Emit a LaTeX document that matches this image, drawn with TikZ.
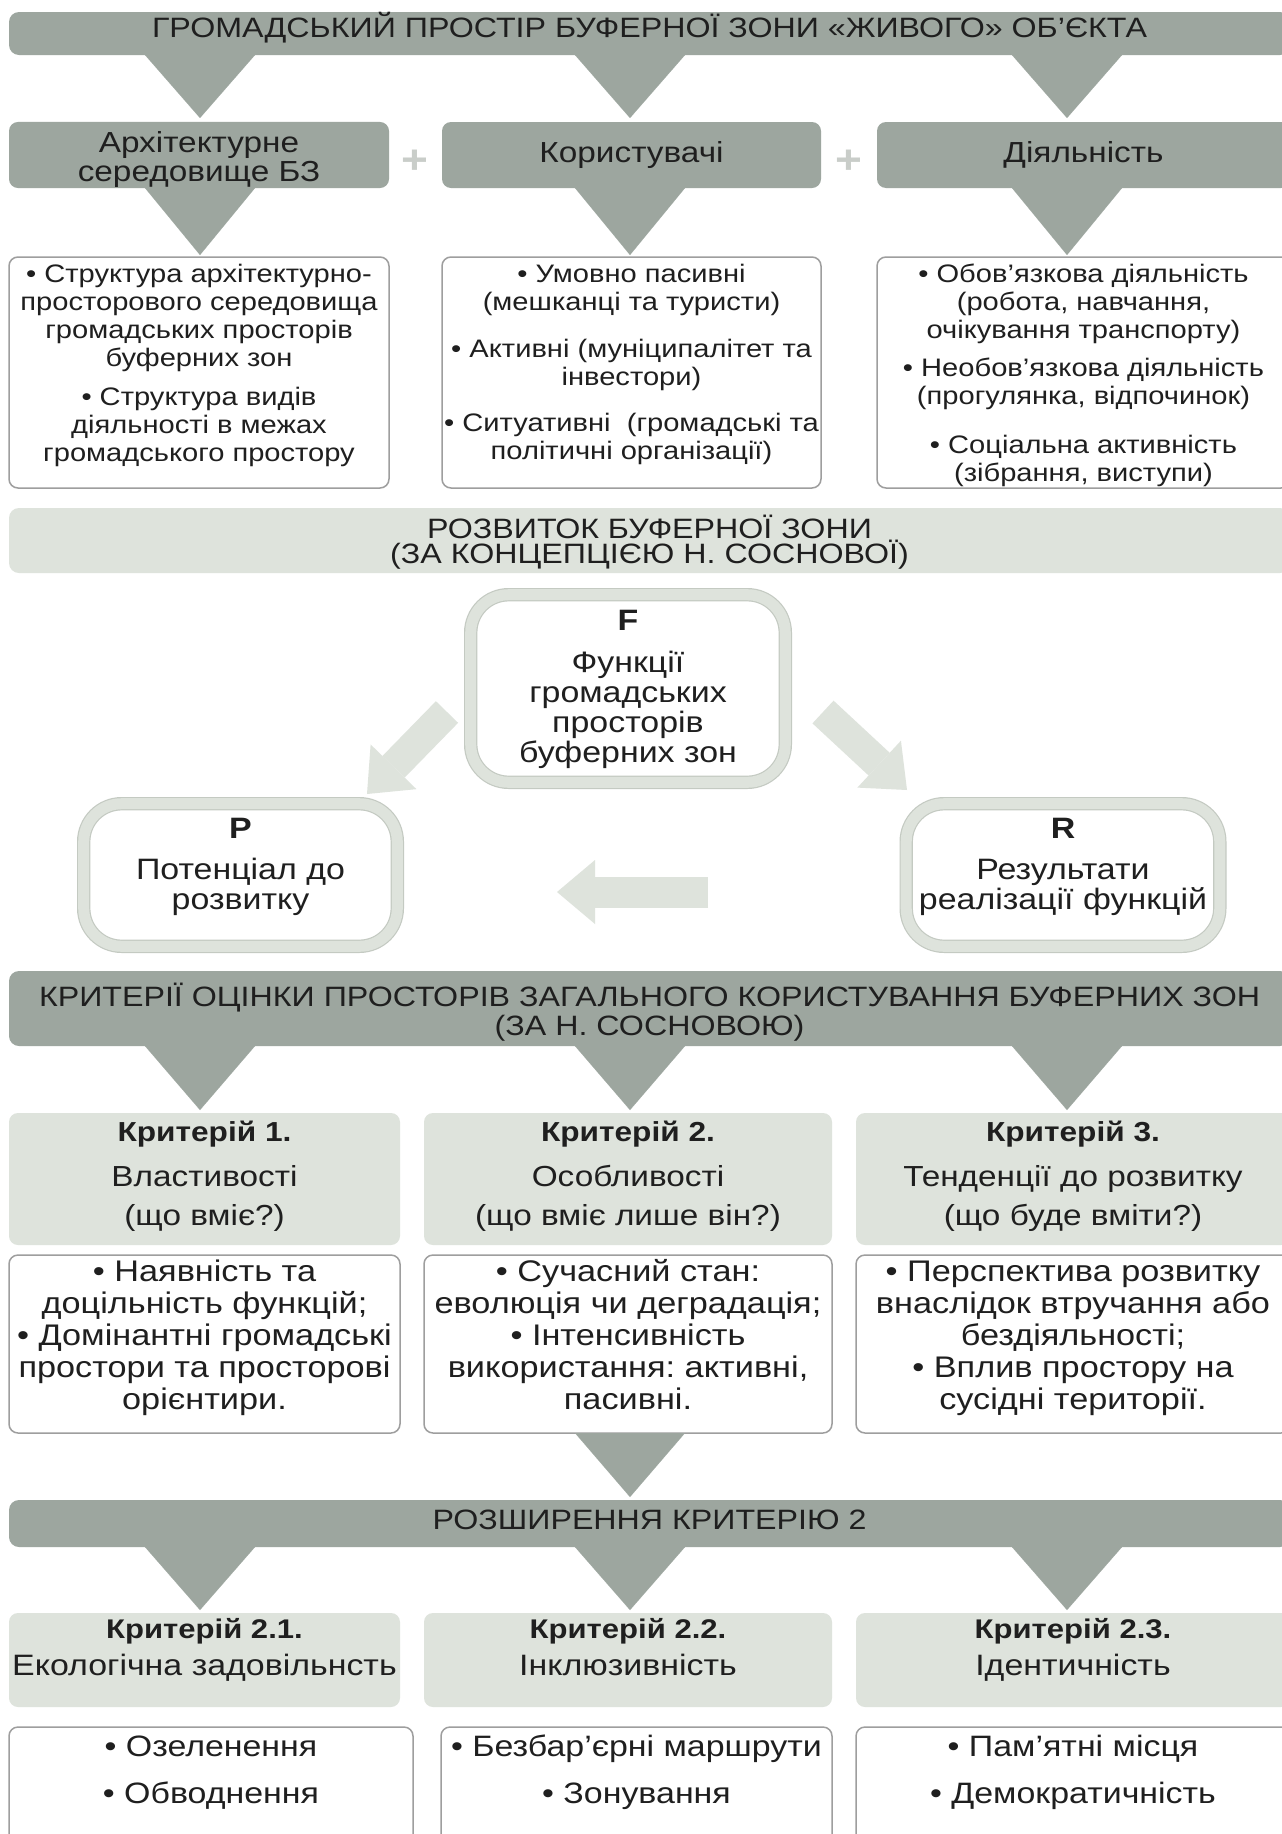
\documentclass[tikz,border=0pt]{standalone}
\usepackage{fontspec}
\setmainfont{Liberation Sans}[FakeStretch=1.15]
\usetikzlibrary{arrows.meta,calc}
\definecolor{dark}{HTML}{9DA69F}
\definecolor{lite}{HTML}{DEE3DC}
\definecolor{bord}{HTML}{9E9E9E}
\definecolor{outl}{HTML}{C4CAC2}
\definecolor{plusc}{HTML}{C9CDC9}
\definecolor{txt}{HTML}{1F1F1F}
\newcommand\fsz[2]{\fontsize{#1}{#2}\selectfont}
\newcommand\tp[1]{\rule{0pt}{#1}}
\newcommand\bt[1]{\rule[-#1]{0pt}{#1}}
\frenchspacing
\begin{document}
\begin{tikzpicture}[x=1pt,y=-1pt,
  every node/.style={text=txt,inner sep=0pt,outer sep=0pt},
  band/.style={fill=dark,rounded corners=10pt,minimum width=1281pt,align=center},
  lband/.style={fill=lite,rounded corners=10pt,minimum width=1281pt,align=center},
  hbox/.style={fill=dark,rounded corners=9pt,align=center,font=\fsz{29}{29}},
  wbox/.style={draw=bord,line width=1.5pt,fill=white,rounded corners=9pt,align=center,font=\fsz{25.3}{28}},
  cbox/.style={fill=lite,rounded corners=9pt,align=center},
  cwbox/.style={draw=bord,line width=1.5pt,fill=white,rounded corners=9pt,align=center,font=\fsz{29.8}{32}},
  ebox/.style={draw=bord,line width=1.5pt,fill=white,rounded corners=9pt,align=center,font=\fsz{29.5}{47}},
  ring/.style={draw=outl,double=lite,double distance=11pt,line width=1.2pt,fill=white,rounded corners=38pt,align=center,font=\fsz{29.5}{30}},
  tri/.style={draw=dark,line width=0.1pt,-{Triangle[length=#1,width=110pt]}},
  blk/.style={draw=lite,line width=31pt,-{Triangle[length=38pt,width=64pt,line width=0pt]}},
  plus/.style={text=plusc,font=\fsz{40}{40}\bfseries}
]
\useasboundingbox (0,0) rectangle (1282,1834);
\fill[white] (0,0) rectangle (1282,1834);
\coordinate (x1) at (200,0);
\coordinate (x2) at (630,0);
\coordinate (x3) at (1067,0);

% top bar
\node[band,minimum height=43pt,font=\fsz{28}{28},text height=20pt,text depth=13pt] (top) at (649.5,33.5) {ГРОМАДСЬКИЙ ПРОСТІР БУФЕРНОЇ ЗОНИ «ЖИВОГО» ОБ’ЄКТА};

% row 1
\node[hbox,minimum width=380pt,minimum height=66pt] (A1) at (199,155) {\tp{31pt}Архітектурне\\середовище БЗ\bt{4.4pt}};
\node[hbox,minimum width=379pt,minimum height=66pt] (A2) at (631.5,155) {Користувачі};
\node[hbox,minimum width=413pt,minimum height=66pt] (A3) at (1083.5,155) {Діяльність};
\node[plus] (pl1) at (415,162) {+};
\node[plus] (pl2) at (849,162) {+};

% row 2
\node[wbox,minimum width=380pt,minimum height=231pt] (W1) at (199,372.5) {\tp{22pt}• Структура архітектурно-\\просторового середовища\\громадських просторів\\буферних зон\\[11pt]• Структура видів\\діяльності в межах\\громадського простору\bt{24pt}};
\node[wbox,minimum width=379pt,minimum height=231pt] (W2) at (631.5,372.5) {\tp{20pt}• Умовно пасивні\\(мешканці та туристи)\\[19pt]• Активні (муніципалітет та\\інвестори)\\[18pt]• Ситуативні\ \ (громадські та\\політичні організації)\bt{23pt}};
\node[wbox,minimum width=413pt,minimum height=231pt] (W3) at (1083.5,372.5) {\tp{25pt}• Обов’язкова діяльність\\(робота, навчання,\\очікування транспорту)\\[10pt]• Необов’язкова діяльність\\(прогулянка, відпочинок)\\[21pt]• Соціальна активність\\(зібрання, виступи)\bt{6pt}};

% band 2
\node[lband,minimum height=65pt,font=\fsz{28}{25}] (B2) at (649.5,540.5) {\tp{27pt}РОЗВИТОК БУФЕРНОЇ ЗОНИ\\(ЗА КОНЦЕПЦІЄЮ Н. СОСНОВОЇ)\bt{6pt}};

% F P R
\node[ring,minimum width=314.6pt,minimum height=187.6pt] (F) at (628,688.5) {\tp{26pt}\textbf{F}\\[12pt]Функції\\громадських\\просторів\\буферних зон\bt{10pt}};
\node[ring,minimum width=313.6pt,minimum height=142.6pt] (P) at (240.5,875) {\tp{24pt}\textbf{P}\\[11pt]Потенціал до\\розвитку\bt{26pt}};
\node[ring,minimum width=313.6pt,minimum height=142.6pt] (R) at (1063,875) {\tp{24pt}\textbf{R}\\[11pt]Результати\\реалізації функцій\bt{26pt}};

\coordinate (fpA) at ($(F.west)+(-23.7,23.5)$);
\coordinate (fpB) at ($(P.north east)+(-30.3,-9.7)$);
\coordinate (frA) at ($(F.east)+(37.7,23.5)$);
\coordinate (frB) at ($(R.north west)+(0.8,-13.7)$);
\coordinate (rpA) at ($(R.west)+(-198.2,17)$);
\coordinate (rpB) at ($(P.east)+(159.7,17)$);
\draw[blk] (fpA) -- (fpB);
\draw[blk] (frA) -- (frB);
\draw[blk] (rpA) -- (rpB);

% band 3
\node[band,minimum height=75pt,font=\fsz{28}{29}] (B3) at (649.5,1008.5) {\tp{30pt}КРИТЕРІЇ ОЦІНКИ ПРОСТОРІВ ЗАГАЛЬНОГО КОРИСТУВАННЯ БУФЕРНИХ ЗОН\\(ЗА Н. СОСНОВОЮ)\bt{5.4pt}};

% criteria
\node[cbox,minimum width=391pt,minimum height=132pt,font=\fsz{29}{39}] (C1) at (204.5,1179) {\tp{24pt}{\bfseries\fsz{27.5}{39}Критерій 1.}\\[6pt]Властивості\\(що вміє?)\bt{16pt}};
\node[cbox,minimum width=408pt,minimum height=132pt,font=\fsz{29}{39}] (C2) at (628,1179) {\tp{24pt}{\bfseries\fsz{27.5}{39}Критерій 2.}\\[6pt]Особливості\\(що вміє лише він?)\bt{16pt}};
\node[cbox,minimum width=434pt,minimum height=132pt,font=\fsz{29}{39}] (C3) at (1073,1179) {\tp{24pt}{\bfseries\fsz{27.5}{39}Критерій 3.}\\[6pt]Тенденції до розвитку\\(що буде вміти?)\bt{16pt}};

\node[cwbox,minimum width=391pt,minimum height=178pt] (CW1) at (204.5,1344) {\tp{24pt}• Наявність та\\доцільність функцій;\\• Домінантні громадські\\простори та просторові\\орієнтири.\bt{21pt}};
\node[cwbox,minimum width=408pt,minimum height=178pt] (CW2) at (628,1344) {\tp{24pt}• Сучасний стан:\\еволюція чи деградація;\\• Інтенсивність\\використання: активні,\\пасивні.\bt{21pt}};
\node[cwbox,minimum width=434pt,minimum height=178pt] (CW3) at (1073,1344) {\tp{24pt}• Перспектива розвитку\\внаслідок втручання або\\бездіяльності;\\• Вплив простору на\\сусідні території.\bt{21pt}};

% band 4
\node[band,minimum height=47pt,font=\fsz{28}{28},text height=20pt,text depth=9pt] (B4) at (649.5,1523.5) {РОЗШИРЕННЯ КРИТЕРІЮ 2};

\node[cbox,minimum width=391pt,minimum height=94pt,font=\fsz{29.5}{37.5}] (D1) at (204.5,1660) {\tp{24pt}{\bfseries\fsz{27}{37.5}Критерій 2.1.}\\Екологічна задовільнсть\bt{30.5pt}};
\node[cbox,minimum width=408pt,minimum height=94pt,font=\fsz{29.5}{37.5}] (D2) at (628,1660) {\tp{24pt}{\bfseries\fsz{27}{37.5}Критерій 2.2.}\\Інклюзивність\bt{30.5pt}};
\node[cbox,minimum width=434pt,minimum height=94pt,font=\fsz{29.5}{37.5}] (D3) at (1073,1660) {\tp{24pt}{\bfseries\fsz{27}{37.5}Критерій 2.3.}\\Ідентичність\bt{30.5pt}};

\node[ebox,minimum width=404pt,minimum height=133pt] (E1) at (211,1793.5) {\tp{24pt}• Озеленення\\• Обводнення\bt{52pt}};
\node[ebox,minimum width=391pt,minimum height=133pt] (E2) at (636.5,1793.5) {\tp{24pt}• Безбар’єрні маршрути\\• Зонування\bt{52pt}};
\node[ebox,minimum width=434pt,minimum height=133pt] (E3) at (1073,1793.5) {\tp{24pt}• Пам’ятні місця\\• Демократичність\bt{52pt}};

% triangles
\draw[tri=63pt] (top.south -| x1) -- ($(A1.north -| x1)+(0,-4)$);
\draw[tri=63pt] (top.south -| x2) -- ($(A2.north -| x2)+(0,-4)$);
\draw[tri=63pt] (top.south -| x3) -- ($(A3.north -| x3)+(0,-4)$);
\draw[tri=67pt] (A1.south -| x1) -- ($(W1.north -| x1)+(0,-2)$);
\draw[tri=67pt] (A2.south -| x2) -- ($(W2.north -| x2)+(0,-2)$);
\draw[tri=67pt] (A3.south -| x3) -- ($(W3.north -| x3)+(0,-2)$);
\draw[tri=64pt] (B3.south -| x1) -- ($(C1.north -| x1)+(0,-3)$);
\draw[tri=64pt] (B3.south -| x2) -- ($(C2.north -| x2)+(0,-3)$);
\draw[tri=64pt] (B3.south -| x3) -- ($(C3.north -| x3)+(0,-3)$);
\draw[tri=64pt] (CW2.south -| x2) -- ($(B4.north -| x2)+(0,-3)$);
\draw[tri=63pt] (B4.south -| x1) -- ($(D1.north -| x1)+(0,-3)$);
\draw[tri=63pt] (B4.south -| x2) -- ($(D2.north -| x2)+(0,-3)$);
\draw[tri=63pt] (B4.south -| x3) -- ($(D3.north -| x3)+(0,-3)$);
\end{tikzpicture}
\end{document}
